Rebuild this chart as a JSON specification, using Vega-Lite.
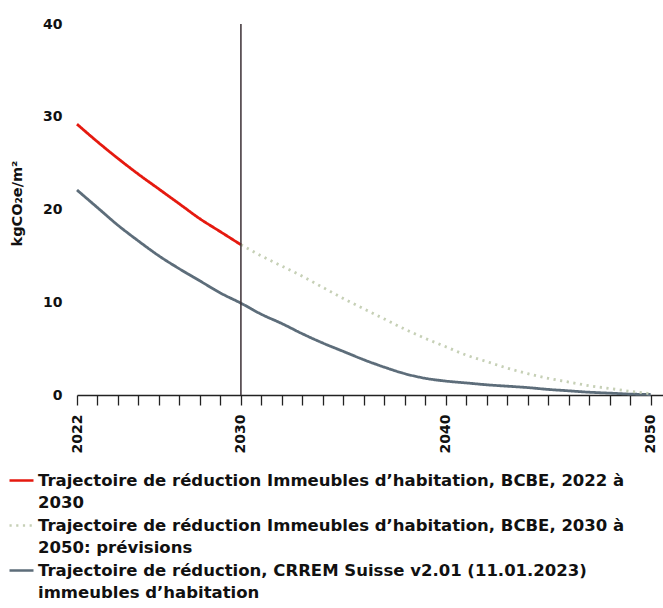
{
  "$schema": "https://vega.github.io/schema/vega-lite/v6.json",
  "width": 586,
  "height": 371,
  "autosize": "none",
  "padding": {"left": 77, "top": 24, "right": 0, "bottom": 213},
  "background": "white",
  "config": {
    "view": {"stroke": null},
    "font": "DejaVu Sans",
    "style": {"guide-label": {"lineHeight": 22.5}},
    "axis": {"labelFont": "DejaVu Sans", "titleFont": "DejaVu Sans", "labelFontWeight": "bold", "titleFontWeight": "bold", "labelColor": "#111111", "titleColor": "#111111"},
    "legend": {"labelFont": "DejaVu Sans", "labelFontWeight": "bold"}
  },
  "datasets": {
    "lines": [
      {"series": "Trajectoire de réduction, CRREM Suisse v2.01 (11.01.2023) immeubles d’habitation", "year": 2022, "value": 22.1},
      {"series": "Trajectoire de réduction, CRREM Suisse v2.01 (11.01.2023) immeubles d’habitation", "year": 2023, "value": 20.2},
      {"series": "Trajectoire de réduction, CRREM Suisse v2.01 (11.01.2023) immeubles d’habitation", "year": 2024, "value": 18.3},
      {"series": "Trajectoire de réduction, CRREM Suisse v2.01 (11.01.2023) immeubles d’habitation", "year": 2025, "value": 16.6},
      {"series": "Trajectoire de réduction, CRREM Suisse v2.01 (11.01.2023) immeubles d’habitation", "year": 2026, "value": 15.0},
      {"series": "Trajectoire de réduction, CRREM Suisse v2.01 (11.01.2023) immeubles d’habitation", "year": 2027, "value": 13.6},
      {"series": "Trajectoire de réduction, CRREM Suisse v2.01 (11.01.2023) immeubles d’habitation", "year": 2028, "value": 12.3},
      {"series": "Trajectoire de réduction, CRREM Suisse v2.01 (11.01.2023) immeubles d’habitation", "year": 2029, "value": 11.0},
      {"series": "Trajectoire de réduction, CRREM Suisse v2.01 (11.01.2023) immeubles d’habitation", "year": 2030, "value": 9.9},
      {"series": "Trajectoire de réduction, CRREM Suisse v2.01 (11.01.2023) immeubles d’habitation", "year": 2031, "value": 8.7},
      {"series": "Trajectoire de réduction, CRREM Suisse v2.01 (11.01.2023) immeubles d’habitation", "year": 2032, "value": 7.7},
      {"series": "Trajectoire de réduction, CRREM Suisse v2.01 (11.01.2023) immeubles d’habitation", "year": 2033, "value": 6.6},
      {"series": "Trajectoire de réduction, CRREM Suisse v2.01 (11.01.2023) immeubles d’habitation", "year": 2034, "value": 5.6},
      {"series": "Trajectoire de réduction, CRREM Suisse v2.01 (11.01.2023) immeubles d’habitation", "year": 2035, "value": 4.7},
      {"series": "Trajectoire de réduction, CRREM Suisse v2.01 (11.01.2023) immeubles d’habitation", "year": 2036, "value": 3.8},
      {"series": "Trajectoire de réduction, CRREM Suisse v2.01 (11.01.2023) immeubles d’habitation", "year": 2037, "value": 3.0},
      {"series": "Trajectoire de réduction, CRREM Suisse v2.01 (11.01.2023) immeubles d’habitation", "year": 2038, "value": 2.3},
      {"series": "Trajectoire de réduction, CRREM Suisse v2.01 (11.01.2023) immeubles d’habitation", "year": 2039, "value": 1.8},
      {"series": "Trajectoire de réduction, CRREM Suisse v2.01 (11.01.2023) immeubles d’habitation", "year": 2040, "value": 1.5},
      {"series": "Trajectoire de réduction, CRREM Suisse v2.01 (11.01.2023) immeubles d’habitation", "year": 2041, "value": 1.3},
      {"series": "Trajectoire de réduction, CRREM Suisse v2.01 (11.01.2023) immeubles d’habitation", "year": 2042, "value": 1.1},
      {"series": "Trajectoire de réduction, CRREM Suisse v2.01 (11.01.2023) immeubles d’habitation", "year": 2043, "value": 0.95},
      {"series": "Trajectoire de réduction, CRREM Suisse v2.01 (11.01.2023) immeubles d’habitation", "year": 2044, "value": 0.8},
      {"series": "Trajectoire de réduction, CRREM Suisse v2.01 (11.01.2023) immeubles d’habitation", "year": 2045, "value": 0.6},
      {"series": "Trajectoire de réduction, CRREM Suisse v2.01 (11.01.2023) immeubles d’habitation", "year": 2046, "value": 0.45},
      {"series": "Trajectoire de réduction, CRREM Suisse v2.01 (11.01.2023) immeubles d’habitation", "year": 2047, "value": 0.3},
      {"series": "Trajectoire de réduction, CRREM Suisse v2.01 (11.01.2023) immeubles d’habitation", "year": 2048, "value": 0.2},
      {"series": "Trajectoire de réduction, CRREM Suisse v2.01 (11.01.2023) immeubles d’habitation", "year": 2049, "value": 0.1},
      {"series": "Trajectoire de réduction, CRREM Suisse v2.01 (11.01.2023) immeubles d’habitation", "year": 2050, "value": 0.05},
      {"series": "Trajectoire de réduction Immeubles d’habitation, BCBE, 2030 à 2050: prévisions", "year": 2030, "value": 16.2},
      {"series": "Trajectoire de réduction Immeubles d’habitation, BCBE, 2030 à 2050: prévisions", "year": 2031, "value": 15.0},
      {"series": "Trajectoire de réduction Immeubles d’habitation, BCBE, 2030 à 2050: prévisions", "year": 2032, "value": 13.9},
      {"series": "Trajectoire de réduction Immeubles d’habitation, BCBE, 2030 à 2050: prévisions", "year": 2033, "value": 12.8},
      {"series": "Trajectoire de réduction Immeubles d’habitation, BCBE, 2030 à 2050: prévisions", "year": 2034, "value": 11.6},
      {"series": "Trajectoire de réduction Immeubles d’habitation, BCBE, 2030 à 2050: prévisions", "year": 2035, "value": 10.4},
      {"series": "Trajectoire de réduction Immeubles d’habitation, BCBE, 2030 à 2050: prévisions", "year": 2036, "value": 9.3},
      {"series": "Trajectoire de réduction Immeubles d’habitation, BCBE, 2030 à 2050: prévisions", "year": 2037, "value": 8.2},
      {"series": "Trajectoire de réduction Immeubles d’habitation, BCBE, 2030 à 2050: prévisions", "year": 2038, "value": 7.1},
      {"series": "Trajectoire de réduction Immeubles d’habitation, BCBE, 2030 à 2050: prévisions", "year": 2039, "value": 6.1},
      {"series": "Trajectoire de réduction Immeubles d’habitation, BCBE, 2030 à 2050: prévisions", "year": 2040, "value": 5.2},
      {"series": "Trajectoire de réduction Immeubles d’habitation, BCBE, 2030 à 2050: prévisions", "year": 2041, "value": 4.3},
      {"series": "Trajectoire de réduction Immeubles d’habitation, BCBE, 2030 à 2050: prévisions", "year": 2042, "value": 3.6},
      {"series": "Trajectoire de réduction Immeubles d’habitation, BCBE, 2030 à 2050: prévisions", "year": 2043, "value": 2.9},
      {"series": "Trajectoire de réduction Immeubles d’habitation, BCBE, 2030 à 2050: prévisions", "year": 2044, "value": 2.3},
      {"series": "Trajectoire de réduction Immeubles d’habitation, BCBE, 2030 à 2050: prévisions", "year": 2045, "value": 1.8},
      {"series": "Trajectoire de réduction Immeubles d’habitation, BCBE, 2030 à 2050: prévisions", "year": 2046, "value": 1.4},
      {"series": "Trajectoire de réduction Immeubles d’habitation, BCBE, 2030 à 2050: prévisions", "year": 2047, "value": 1.0},
      {"series": "Trajectoire de réduction Immeubles d’habitation, BCBE, 2030 à 2050: prévisions", "year": 2048, "value": 0.7},
      {"series": "Trajectoire de réduction Immeubles d’habitation, BCBE, 2030 à 2050: prévisions", "year": 2049, "value": 0.4},
      {"series": "Trajectoire de réduction Immeubles d’habitation, BCBE, 2030 à 2050: prévisions", "year": 2050, "value": 0.15},
      {"series": "Trajectoire de réduction Immeubles d’habitation, BCBE, 2022 à 2030", "year": 2022, "value": 29.2},
      {"series": "Trajectoire de réduction Immeubles d’habitation, BCBE, 2022 à 2030", "year": 2023, "value": 27.3},
      {"series": "Trajectoire de réduction Immeubles d’habitation, BCBE, 2022 à 2030", "year": 2024, "value": 25.5},
      {"series": "Trajectoire de réduction Immeubles d’habitation, BCBE, 2022 à 2030", "year": 2025, "value": 23.8},
      {"series": "Trajectoire de réduction Immeubles d’habitation, BCBE, 2022 à 2030", "year": 2026, "value": 22.2},
      {"series": "Trajectoire de réduction Immeubles d’habitation, BCBE, 2022 à 2030", "year": 2027, "value": 20.6},
      {"series": "Trajectoire de réduction Immeubles d’habitation, BCBE, 2022 à 2030", "year": 2028, "value": 19.0},
      {"series": "Trajectoire de réduction Immeubles d’habitation, BCBE, 2022 à 2030", "year": 2029, "value": 17.6},
      {"series": "Trajectoire de réduction Immeubles d’habitation, BCBE, 2022 à 2030", "year": 2030, "value": 16.2}
    ],
    "marker": [{"year": 2030, "low": 0, "high": 40}]
  },
  "layer": [
    {
      "data": {"name": "lines"},
      "mark": {"type": "line", "strokeWidth": 2.8, "interpolate": "monotone"},
      "encoding": {
        "x": {
          "field": "year", "type": "quantitative",
          "scale": {"domain": [2022, 2050.6], "nice": false, "zero": false},
          "axis": {
            "title": null,
            "tickCount": 30,
            "labelExpr": "indexof([2022,2030,2040,2050], datum.value) >= 0 ? format(datum.value, 'd') : ''",
            "labelAngle": -90,
            "labelAlign": "right",
            "labelBaseline": "middle",
            "labelFontSize": 14,
            "labelPadding": 9,
            "labelOverlap": false,
            "labelFlush": false,
            "labelBound": false,
            "domainColor": "#222222",
            "domainWidth": 1.5,
            "tickColor": "#222222",
            "tickWidth": 1.3,
            "tickSize": 10,
            "tickRound": true,
            "grid": false
          }
        },
        "y": {
          "field": "value", "type": "quantitative",
          "scale": {"domain": [0, 40], "nice": false},
          "axis": {
            "title": "kgCO₂e/m²",
            "titleFontSize": 14.5,
            "titlePadding": 18,
            "titleY": 179,
            "values": [0, 10, 20, 30, 40],
            "labelFontSize": 14,
            "labelPadding": 15,
            "ticks": false,
            "domain": false,
            "grid": false
          }
        },
        "color": {
          "field": "series", "type": "nominal",
          "scale": {
            "domain": [
              "Trajectoire de réduction Immeubles d’habitation, BCBE, 2022 à 2030",
              "Trajectoire de réduction Immeubles d’habitation, BCBE, 2030 à 2050: prévisions",
              "Trajectoire de réduction, CRREM Suisse v2.01 (11.01.2023) immeubles d’habitation"
            ],
            "range": ["#e5190f", "#c6d0b6", "#5d6d7a"]
          },
          "legend": {
            "title": null,
            "orient": "none",
            "legendX": -69,
            "legendY": 443,
            "direction": "vertical",
            "padding": 0,
            "symbolType": "stroke",
            "symbolSize": 576,
            "symbolStrokeWidth": 2.5,
            "labelFontSize": 16.5,
            "labelColor": "#111111",
            "labelLimit": 700,
            "labelOffset": 3,
            "rowPadding": 0,
            "labelExpr": "datum.label == 'Trajectoire de réduction Immeubles d’habitation, BCBE, 2022 à 2030' ? ['Trajectoire de réduction Immeubles d’habitation, BCBE, 2022 à', '2030'] : datum.label == 'Trajectoire de réduction Immeubles d’habitation, BCBE, 2030 à 2050: prévisions' ? ['Trajectoire de réduction Immeubles d’habitation, BCBE, 2030 à', '2050: prévisions'] : ['Trajectoire de réduction, CRREM Suisse v2.01 (11.01.2023)', 'immeubles d’habitation']"
          }
        },
        "strokeDash": {
          "field": "series", "type": "nominal",
          "scale": {
            "domain": [
              "Trajectoire de réduction Immeubles d’habitation, BCBE, 2022 à 2030",
              "Trajectoire de réduction Immeubles d’habitation, BCBE, 2030 à 2050: prévisions",
              "Trajectoire de réduction, CRREM Suisse v2.01 (11.01.2023) immeubles d’habitation"
            ],
            "range": [[1, 0], [2.2, 4.5], [1, 0]]
          },
          "legend": null
        }
      }
    },
    {
      "data": {"name": "marker"},
      "mark": {"type": "rule", "color": "#3b3035", "strokeWidth": 1.5},
      "encoding": {
        "x": {"field": "year", "type": "quantitative"},
        "y": {"field": "low", "type": "quantitative"},
        "y2": {"field": "high"}
      }
    }
  ]
}
